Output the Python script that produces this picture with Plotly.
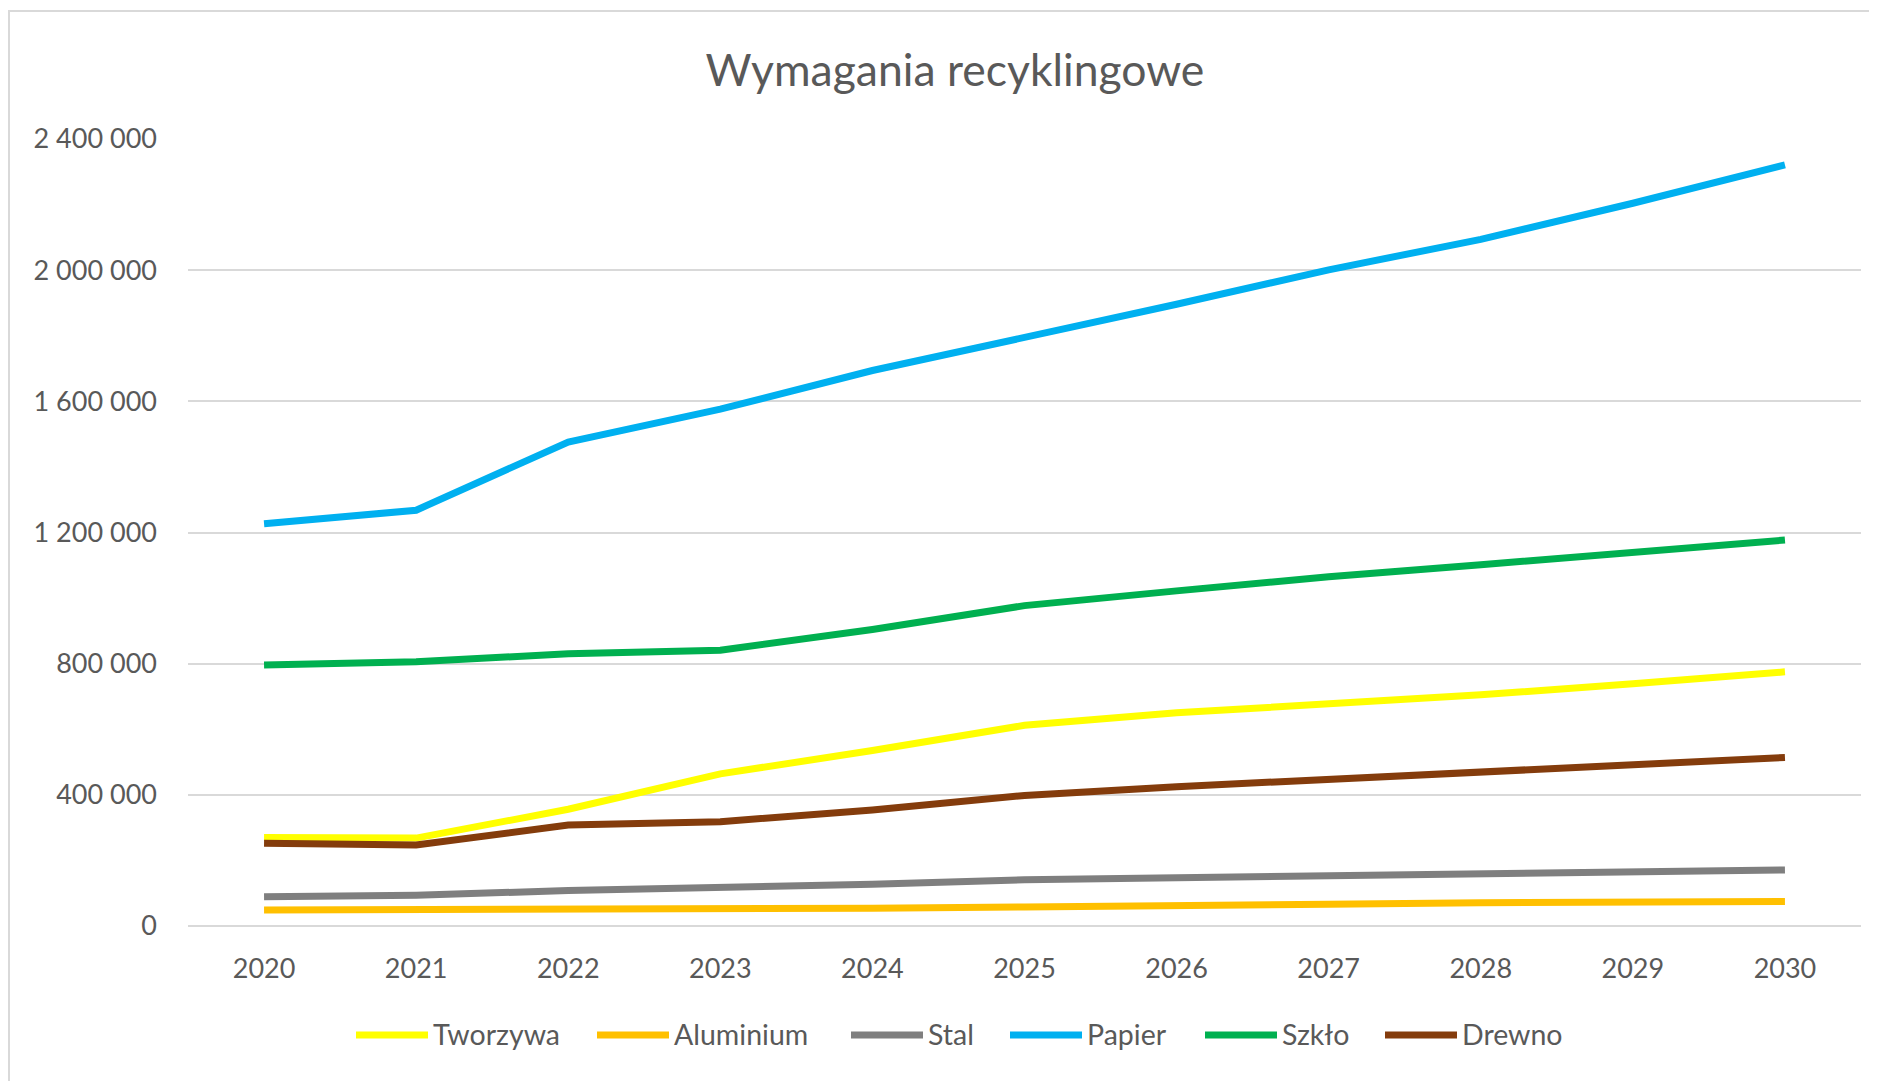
import plotly.graph_objects as go

years = ["2020", "2021", "2022", "2023", "2024", "2025", "2026", "2027", "2028", "2029", "2030"]

tworzywa = [270000, 268000, 356000, 464000, 535000, 612000, 650000, 677000, 705000, 739000, 775000]
aluminium = [49000, 49000, 53000, 53000, 54000, 58000, 60000, 66000, 71000, 72000, 75000]
stal = [89000, 94000, 108000, 115000, 127000, 141000, 148000, 154000, 162000, 167000, 171000]
papier = [1227000, 1268000, 1476000, 1576000, 1694000, 1793000, 1896000, 2001000, 2094000, 2204000, 2321000]
szklo = [796000, 806000, 830000, 841000, 904000, 977000, 1022000, 1065000, 1102000, 1140000, 1177000]
drewno = [252000, 247000, 308000, 318000, 354000, 398000, 425000, 447000, 474000, 496000, 514000]

series_names = ["Tworzywa", "Aluminium", "Stal", "Papier", "Szkło", "Drewno"]
series_values = [tworzywa, aluminium, stal, papier, szklo, drewno]
series_colors = ["#FFFF00", "#FFC000", "#7F7F7F", "#00B0F0", "#00B050", "#843C0C"]

y_ticks = [0, 400000, 800000, 1200000, 1600000, 2000000, 2400000]

FONT = "Lato, Carlito, 'Open Sans', sans-serif"
TXT = "#595959"

# The page body adds an 8px offset; build the figure in screen pixels minus that.
OFF = 8
W, H = 1877 - OFF, 1081 - OFF
PL, PR, PT, PB = 188, 1861, 139, 926          # plot area in screen pixels
L, T = PL - OFF, PT - OFF
R = W - (PR - OFF)
B = H - (PB - OFF)
pw = W - L - R
ph = H - T - B

def px_x(sx):
    return (sx - OFF - L) / pw

def px_y(sy):
    return (H - B - (sy - OFF)) / ph

fig = go.Figure()
for name, vals, col in zip(series_names, series_values, series_colors):
    fig.add_trace(go.Scatter(
        x=years, y=vals, name=name, mode="lines",
        line=dict(color=col, width=7),
        hovertemplate="%{x}: %{y:,d}<extra>" + name + "</extra>",
        showlegend=False,
    ))

# custom legend (Excel-style long line swatches)
legend_line_x0 = [356, 597, 851, 1010, 1205, 1385]
legend_y = 1035
swatch_len = 72
shapes = [dict(
    type="rect", xref="paper", yref="paper",
    x0=px_x(9), x1=px_x(1920),
    y0=px_y(1100), y1=px_y(11),
    line=dict(color="#D9D9D9", width=2), fillcolor="rgba(0,0,0,0)",
    layer="below",
)]
annotations = []
for name, col, x0 in zip(series_names, series_colors, legend_line_x0):
    shapes.append(dict(
        type="line", xref="paper", yref="paper",
        x0=px_x(x0), x1=px_x(x0 + swatch_len),
        y0=px_y(legend_y), y1=px_y(legend_y),
        line=dict(color=col, width=7),
    ))
    annotations.append(dict(
        text=name, xref="paper", yref="paper",
        x=px_x(x0 + swatch_len + 3), y=px_y(legend_y - 1),
        xanchor="left", yanchor="middle", showarrow=False,
        font=dict(family=FONT, size=28.5, color=TXT),
    ))

fig.update_layout(
    width=W, height=H,
    margin=dict(l=L, r=R, t=T, b=B, autoexpand=False),
    paper_bgcolor="white", plot_bgcolor="white",
    separators=", ",
    font=dict(family=FONT, color=TXT, size=28),
    title=dict(
        text="Wymagania recyklingowe",
        x=(955 - OFF) / W, xanchor="center", xref="container",
        y=1 - (70 - OFF) / H, yanchor="middle", yref="container",
        font=dict(family=FONT, size=44.5, color=TXT),
    ),
    xaxis=dict(
        type="category", range=[-0.5, len(years) - 0.5],
        showgrid=False, showline=False, ticks="",
        tickfont=dict(family=FONT, size=27, color=TXT),
        ticklabelstandoff=24, zeroline=False, fixedrange=True,
    ),
    yaxis=dict(
        range=[0, 2400000], tickvals=y_ticks, tickformat=",d",
        showgrid=True, gridcolor="#D9D9D9", gridwidth=2,
        zeroline=True, zerolinecolor="#D9D9D9", zerolinewidth=2,
        showline=False, ticks="",
        tickfont=dict(family=FONT, size=27, color=TXT),
        ticklabelstandoff=30, fixedrange=True,
    ),
    shapes=shapes,
    annotations=annotations,
    showlegend=False,
)

fig.write_html("out.html")
